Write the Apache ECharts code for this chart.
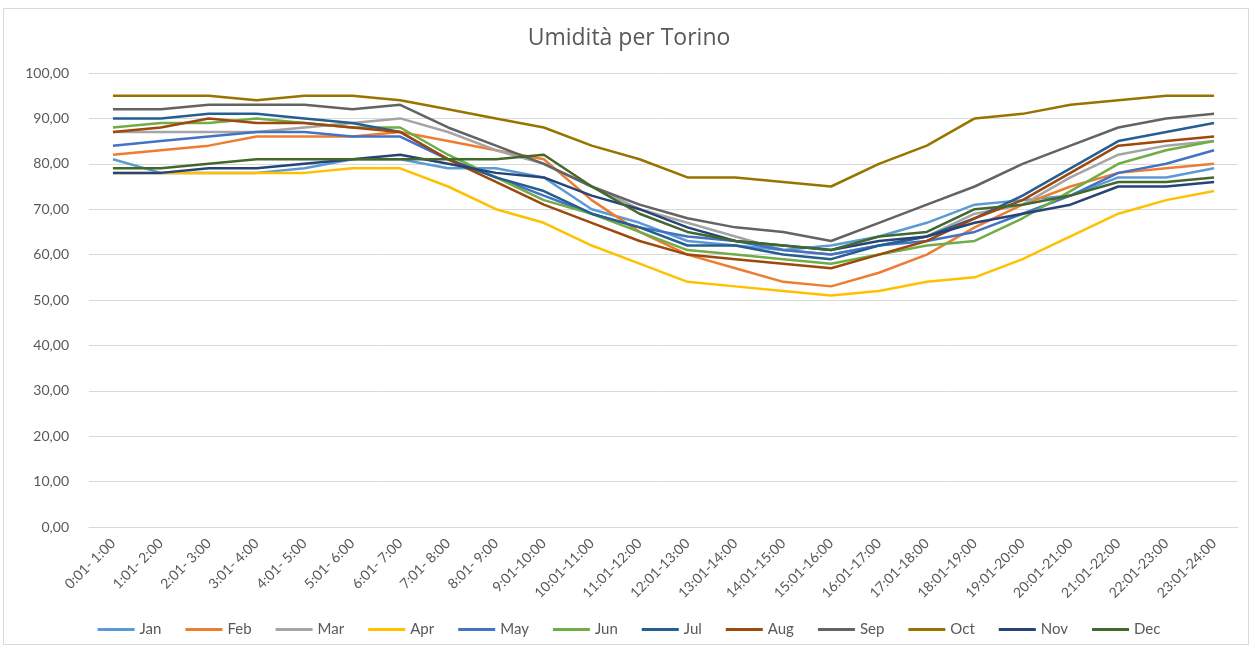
<!DOCTYPE html>
<html>
<head>
<meta charset="utf-8">
<script src="https://cdn.jsdelivr.net/npm/echarts@6/dist/echarts.min.js"></script>
<style>
  html, body { margin: 0; padding: 0; background: #ffffff; }
  #frame { position: absolute; left: 3px; top: 8px; width: 1246px; height: 637px; border: 1px solid #d9d9d9; box-sizing: border-box; }
  #chart { position: absolute; left: 0; top: 0; width: 1258px; height: 650px; }
</style>
</head>
<body>
<div id="frame"></div>
<div id="chart"></div>
<script>
// Hourly relative humidity in Turin, one line per month
const hours = [
  '0:01- 1:00', '1:01- 2:00', '2:01- 3:00', '3:01- 4:00', '4:01- 5:00', '5:01- 6:00',
  '6:01- 7:00', '7:01- 8:00', '8:01- 9:00', '9:01-10:00', '10:01-11:00', '11:01-12:00',
  '12:01-13:00', '13:01-14:00', '14:01-15:00', '15:01-16:00', '16:01-17:00', '17:01-18:00',
  '18:01-19:00', '19:01-20:00', '20:01-21:00', '21:01-22:00', '22:01-23:00', '23:01-24:00'
];

const months = ['Jan', 'Feb', 'Mar', 'Apr', 'May', 'Jun', 'Jul', 'Aug', 'Sep', 'Oct', 'Nov', 'Dec'];

const jan = [81, 78, 78, 78, 79, 81, 81, 79, 79, 77, 70, 67, 63, 62, 61, 62, 64, 67, 71, 72, 73, 77, 77, 79];
const feb = [82, 83, 84, 86, 86, 86, 87, 85, 83, 81, 72, 65, 60, 57, 54, 53, 56, 60, 66, 71, 75, 78, 79, 80];
const mar = [87, 87, 87, 87, 88, 89, 90, 87, 83, 80, 75, 70, 67, 64, 61, 60, 62, 64, 69, 71, 77, 82, 84, 85];
const apr = [78, 78, 78, 78, 78, 79, 79, 75, 70, 67, 62, 58, 54, 53, 52, 51, 52, 54, 55, 59, 64, 69, 72, 74];
const may = [84, 85, 86, 87, 87, 86, 86, 81, 77, 73, 69, 66, 64, 63, 61, 60, 62, 63, 65, 69, 73, 78, 80, 83];
const jun = [88, 89, 89, 90, 89, 88, 88, 82, 77, 72, 69, 65, 61, 60, 59, 58, 60, 62, 63, 68, 74, 80, 83, 85];
const jul = [90, 90, 91, 91, 90, 89, 87, 81, 77, 74, 69, 66, 62, 62, 60, 59, 62, 64, 68, 73, 79, 85, 87, 89];
const aug = [87, 88, 90, 89, 89, 88, 87, 81, 76, 71, 67, 63, 60, 59, 58, 57, 60, 63, 68, 72, 78, 84, 85, 86];
const sep = [92, 92, 93, 93, 93, 92, 93, 88, 84, 80, 75, 71, 68, 66, 65, 63, 67, 71, 75, 80, 84, 88, 90, 91];
const oct = [95, 95, 95, 94, 95, 95, 94, 92, 90, 88, 84, 81, 77, 77, 76, 75, 80, 84, 90, 91, 93, 94, 95, 95];
const nov = [78, 78, 79, 79, 80, 81, 82, 80, 78, 77, 73, 70, 66, 63, 62, 61, 63, 64, 67, 69, 71, 75, 75, 76];
const dec = [79, 79, 80, 81, 81, 81, 81, 81, 81, 82, 75, 69, 65, 63, 62, 61, 64, 65, 70, 71, 73, 76, 76, 77];

const monthValues = [jan, feb, mar, apr, may, jun, jul, aug, sep, oct, nov, dec];
const colors = ['#5B9BD5', '#ED7D31', '#A5A5A5', '#FFC000', '#4472C4', '#70AD47',
                '#255E91', '#9E480E', '#636363', '#997300', '#264478', '#43682B'];

const textColor = '#595959';
const fontFamily = 'Lato, "Open Sans", sans-serif';

const chart = echarts.init(document.getElementById('chart'), null, { renderer: 'canvas' });

chart.setOption({
  backgroundColor: 'transparent',
  color: colors,
  animation: false,
  title: {
    text: 'Umidità per Torino',
    left: 'center',
    top: 22,
    textStyle: { color: textColor, fontFamily: '"Open Sans", sans-serif', fontSize: 23, fontWeight: 'normal' }
  },
  grid: { left: 89, right: 20, top: 73, bottom: 123 },
  legend: {
    bottom: 8,
    left: 'center',
    icon: 'rect',
    itemWidth: 37,
    itemHeight: 3,
    itemGap: 24,
    textStyle: { color: textColor, fontFamily: fontFamily, fontSize: 15 },
    data: months
  },
  xAxis: {
    type: 'category',
    data: hours,
    boundaryGap: true,
    axisLine: { lineStyle: { color: '#d9d9d9' } },
    axisTick: { show: false },
    axisLabel: {
      interval: 0,
      rotate: 45,
      margin: 14,
      color: textColor,
      fontFamily: fontFamily,
      fontSize: 14
    }
  },
  yAxis: {
    type: 'value',
    min: 0,
    max: 100,
    interval: 10,
    axisLine: { show: false },
    axisTick: { show: false },
    splitLine: { lineStyle: { color: '#d9d9d9' } },
    axisLabel: {
      margin: 20,
      color: textColor,
      fontFamily: fontFamily,
      fontSize: 14,
      formatter: v => v.toFixed(2).replace('.', ',')
    }
  },
  series: months.map((m, i) => ({
    name: m,
    type: 'line',
    data: monthValues[i],
    showSymbol: false,
    symbol: 'none',
    lineStyle: { width: 2.5, color: colors[i] },
    itemStyle: { color: colors[i] }
  }))
});
</script>
</body>
</html>
